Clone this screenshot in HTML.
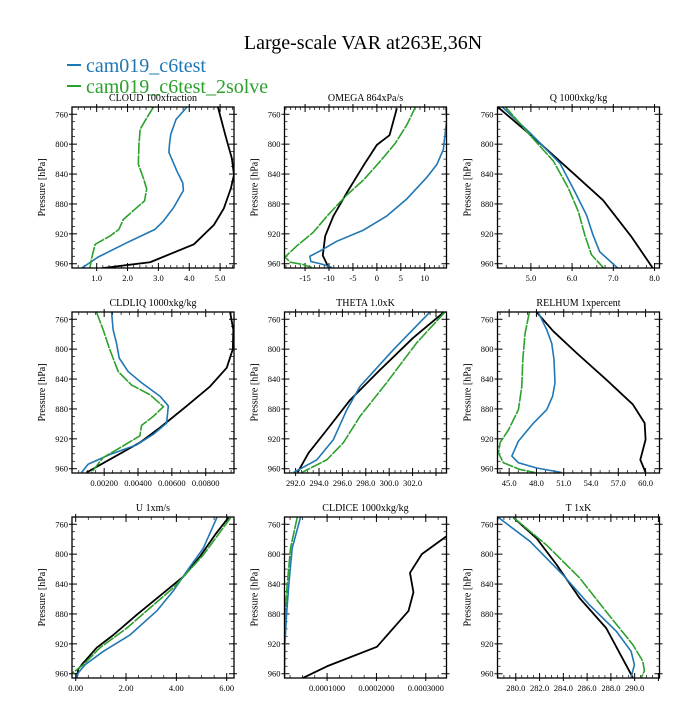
<!DOCTYPE html>
<html><head><meta charset="utf-8"><style>
body{margin:0;background:#fff;}
svg text{font-family:"Liberation Serif",serif;}
</style></head><body>
<svg id="fig" width="700" height="700" viewBox="0 0 700 700" xmlns="http://www.w3.org/2000/svg">
<rect width="700" height="700" fill="#fff"/>
<text x="363" y="49" font-size="20" text-anchor="middle">Large-scale VAR at263E,36N</text>
<g>
<line x1="67" y1="65" x2="81" y2="65" stroke="#1f77b4" stroke-width="2"/>
<text x="86" y="72" font-size="20" fill="#1f77b4">cam019_c6test</text>
<line x1="67" y1="86" x2="81" y2="86" stroke="#2ca02c" stroke-width="2"/>
<text x="86" y="93" font-size="20" fill="#2ca02c">cam019_c6test_2solve</text>
</g>
<g id="panels"></g>
</svg>
<script>
// Pressure axis
const pTicks = [760, 800, 840, 880, 920, 960];
const pDomain = [750.3, 965.7];

// CLOUD
const cloudTicks = [1.0, 2.0, 3.0, 4.0, 5.0];
const cloudBlackP = [750.5,788,819,841,859,886,908,934,958,966];
const cloudBlackX = [4.93,5.17,5.38,5.45,5.35,5.12,4.8,4.15,2.73,1.16];
const cloudBlueP = [750.5,767,787,800,811,836,852,862,885,903,914,932,951,966];
const cloudBlueX = [3.92,3.57,3.40,3.36,3.34,3.6,3.79,3.81,3.49,3.16,2.89,1.97,1.05,0.51];
const cloudGreenP = [750.5,765,780,800,827,845,860,876,887,901,914,923,934,952,966];
const cloudGreenX = [2.84,2.62,2.41,2.37,2.35,2.51,2.62,2.55,2.24,1.86,1.72,1.43,0.95,0.84,0.78];

// OMEGA
const omegaTicks = [-15, -10, -5, 0, 5, 10];
const omegaBlackP = [752,788,801,825,865,896,923,949,965];
const omegaBlackX = [4.18,2.65,0,-2.44,-6.28,-9.07,-10.8,-11.3,-10.1];
const omegaBlueP = [749,767,807,827,844,873,896,915,930,943,950,957,961,965];
const omegaBlueX = [14.4,14.6,13.9,12.55,10.5,6.3,2.1,-2.8,-8.4,-11.9,-14,-13.8,-11.2,-9.4];
const omegaGreenP = [749,774,799,823,848,868,894,918,936,951,958,961,965];
const omegaGreenX = [8.16,6.28,3.83,0.69,-2.8,-6.28,-10.1,-13.3,-16.7,-19.2,-18.1,-15.4,-13.6];

// Q
const qTicks = [5.0, 6.0, 7.0, 8.0];
const qBlackP = [750,787,839,875,924,966];
const qBlackX = [4.19,4.98,6.03,6.75,7.44,7.96];
const qBlueP = [750,785,826,864,895,922,944,966];
const qBlueX = [4.30,4.98,5.71,6.07,6.35,6.51,6.67,7.11];
const qGreenP = [750,788,823,859,890,922,948,966];
const qGreenX = [4.38,4.98,5.55,5.91,6.15,6.31,6.47,6.77];

// CLDLIQ
const liqTicks = [0.002, 0.004, 0.006, 0.008];
const liqBlackP = [750.7,774,800,825,850,876,905,925,945,965];
const liqBlackX = [0.00944,0.00963,0.0096,0.00924,0.00825,0.00688,0.0053,0.00411,0.00253,0.00096];
const liqBlueP = [750.7,774,792,812,830,845,863,876,899,914,928,941,954,965];
const liqBlueX = [0.00244,0.00253,0.00273,0.00289,0.00342,0.00421,0.0053,0.00579,0.00569,0.0049,0.00392,0.00234,0.00105,0.00066];
const liqGreenP = [750.7,774,801,830,848,861,877,890,902,916,932,945,965];
const liqGreenX = [0.00155,0.00194,0.00234,0.00283,0.00362,0.00471,0.0055,0.0049,0.00421,0.00411,0.00293,0.00194,0.00125];

// THETA
const thetaTicks = [292, 294, 296, 298, 300, 302];
const thetaBlackP = [750.7,785,828,868,908,939,965];
const thetaBlackX = [304.66,302.04,299.2,296.66,294.67,293.1,292.17];
const thetaBlueP = [750.7,801,850,881,921,948,965];
const thetaBlueX = [303.46,300.34,297.5,296.38,295.23,293.82,291.83];
const thetaGreenP = [750.7,792,845,890,925,948,965];
const thetaGreenX = [304.74,302.33,299.78,297.5,296.09,294.67,292.54];

// RELHUM
const rhTicks = [45, 48, 51, 54, 57, 60];
const rhBlackP = [750.7,776,805,841,874,899,921,948,965];
const rhBlackX = [48.03,49.85,52.4,55.7,58.6,59.9,60.0,59.42,60.0];
const rhBlueP = [750.7,774,792,814,845,863,881,899,923,943,952,959,965];
const rhBlueX = [48.2,49.13,49.68,49.93,50.04,49.78,49.13,47.67,46.02,45.3,46.02,48.03,50.77];
const rhGreenP = [750.7,779,814,850,881,908,925,939,952,961,965];
const rhGreenX = [47.22,46.75,46.5,46.39,46.02,44.93,44.0,43.83,44.37,46.2,47.85];

// U
const uTicks = [0, 2, 4, 6];
const uBlackP = [751,774,803,830,852,881,908,925,948,954,966];
const uBlackX = [6.07,5.54,4.94,4.28,3.48,2.43,1.5,0.84,0.24,0.10,0.04];
const uBlueP = [751,792,823,849,876,908,930,948,959,966];
const uBlueX = [5.61,5.07,4.41,3.88,3.22,2.16,1.1,0.37,0.1,0.04];
const uGreenP = [751,801,845,872,899,925,948,960];
const uGreenX = [6.16,5.07,3.88,2.95,2.03,0.97,0.30,-0.16];

// CLDICE
const iceTicks = [0.0001, 0.0002, 0.0003];
const iceBlackP = [776,800,825,851,876,924,950,966];
const iceBlackX = [0.000342,0.000292,0.000268,0.000275,0.000265,0.000201,0.0001,0.00005];
const iceBlueP = [751,792,841,881,921,966];
const iceBlueX = [0.000046,0.0000293,0.0000224,0.0000178,0.0000144,0.0000137];
const iceGreenP = [751,792,841,881,921,966];
const iceGreenX = [0.0000394,0.0000259,0.0000192,0.0000144,0.0000124,0.0000111];

// T
const tTicks = [280, 282, 284, 286, 288, 290];
const tBlackP = [751,779,814,859,899,965];
const tBlackX = [279.8,281.76,283.43,285.38,287.61,289.84];
const tBlueP = [751,783,828,868,903,930,948,965];
const tBlueX = [278.54,281.2,283.98,286.2,288.45,289.7,289.98,289.7];
const tGreenP = [751,788,832,877,921,943,956,966];
const tGreenX = [279.8,282.6,285.38,287.61,289.84,290.68,290.82,290.54];

const NS = 'http://www.w3.org/2000/svg';
const colX = [72, 284.5, 497.5];
const rowY = [107, 312, 517];
const PW = 162, PH = 161;

const panels = [
 {name:'cloud', title:'CLOUD  100xfraction', dom:[0.2,5.45], ticks:cloudTicks, fmt:v=>v.toFixed(1), minor:5, s:[[cloudBlackP,cloudBlackX],[cloudBlueP,cloudBlueX],[cloudGreenP,cloudGreenX]]},
 {name:'omega', title:'OMEGA  864xPa/s', dom:[-19.3,14.55], ticks:omegaTicks, fmt:v=>String(v), minor:5, s:[[omegaBlackP,omegaBlackX],[omegaBlueP,omegaBlueX],[omegaGreenP,omegaGreenX]]},
 {name:'q', title:'Q  1000xkg/kg', dom:[4.19,8.12], ticks:qTicks, fmt:v=>v.toFixed(1), minor:5, s:[[qBlackP,qBlackX],[qBlueP,qBlueX],[qGreenP,qGreenX]]},
 {name:'cldliq', title:'CLDLIQ  1000xkg/kg', dom:[0.0001,0.00967], ticks:liqTicks, fmt:v=>v.toFixed(5), minor:4, s:[[liqBlackP,liqBlackX],[liqBlueP,liqBlueX],[liqGreenP,liqGreenX]]},
 {name:'theta', title:'THETA  1.0xK', dom:[291.05,304.9], ticks:thetaTicks, fmt:v=>v.toFixed(1), minor:4, s:[[thetaBlackP,thetaBlackX],[thetaBlueP,thetaBlueX],[thetaGreenP,thetaGreenX]]},
 {name:'relhum', title:'RELHUM  1xpercent', dom:[43.72,61.53], ticks:rhTicks, fmt:v=>v.toFixed(1), minor:3, s:[[rhBlackP,rhBlackX],[rhBlueP,rhBlueX],[rhGreenP,rhGreenX]]},
 {name:'u', title:'U  1xm/s', dom:[-0.147,6.29], ticks:uTicks, fmt:v=>v.toFixed(2), minor:4, s:[[uBlackP,uBlackX],[uBlueP,uBlueX],[uGreenP,uGreenX]]},
 {name:'cldice', title:'CLDICE  1000xkg/kg', dom:[0.0000137,0.000342], ticks:iceTicks, fmt:v=>v.toFixed(7), minor:4, s:[[iceBlackP,iceBlackX],[iceBlueP,iceBlueX],[iceGreenP,iceGreenX]]},
 {name:'t', title:'T  1xK', dom:[278.46,292.09], ticks:tTicks, fmt:v=>v.toFixed(1), minor:4, s:[[tBlackP,tBlackX],[tBlueP,tBlueX],[tGreenP,tGreenX]]}
];
const colors = ['#000000','#1f77b4','#2ca02c'];
const sNames = ['control','c6test','c6test-2solve'];
const root = document.getElementById('panels');

function mk(tag, attrs, parent){const e=document.createElementNS(NS,tag);for(const k in attrs)e.setAttribute(k,attrs[k]);parent.appendChild(e);return e;}

panels.forEach((pn,i)=>{
  const x0 = colX[i%3], y0 = rowY[Math.floor(i/3)];
  const xs = v => x0 + (v-pn.dom[0])/(pn.dom[1]-pn.dom[0])*PW;
  const ys = p => y0 + (p-pDomain[0])/(pDomain[1]-pDomain[0])*PH;
  const g = mk('g',{},root);
  
  
  const cid = 'clip'+i;
  const cp = mk('clipPath',{id:cid},g);
  mk('rect',{x:x0,y:y0,width:PW,height:PH},cp);
  const tt = mk('text',{x:x0+PW/2,y:y0-6,'font-size':'10','text-anchor':'middle'},g);
  tt.textContent = pn.title;
  
  
  const yl = mk('text',{x:0,y:0,'font-size':'10','text-anchor':'middle',transform:`translate(${x0-27},${y0+PH/2}) rotate(-90)`},g);
  yl.textContent = 'Pressure [hPa]';
  
  
  for(let p=760;p<=960;p+=10){
    const y=ys(p), major = pTicks.includes(p);
    const L = major?5:3;
    mk('line',{x1:x0-(major?3:0),y1:y,x2:x0+L,y2:y,stroke:'#000','stroke-width':major?1:0.7},g);
    mk('line',{x1:x0+PW-L,y1:y,x2:x0+PW+(major?3:0),y2:y,stroke:'#000','stroke-width':major?1:0.7},g);
  }
  pTicks.forEach(p=>{
    const t = mk('text',{x:x0-4,y:ys(p)+3,'font-size':'8.5','text-anchor':'end'},g);
    t.textContent = p;
    
    
  });
  const step = pn.ticks[1]-pn.ticks[0];
  const mstep = step/pn.minor;
  const start = pn.ticks[0] - Math.ceil((pn.ticks[0]-pn.dom[0])/mstep)*mstep;
  for(let k=0; ; k++){
    const v = start + k*mstep;
    if(v>pn.dom[1]+1e-12) break;
    if(v<pn.dom[0]-1e-12) continue;
    const x = xs(v);
    const major = Math.abs(((v-pn.ticks[0])/step) - Math.round((v-pn.ticks[0])/step))<1e-6;
    const L = major?5:3;
    mk('line',{x1:x,y1:y0+PH+(major?3:0),x2:x,y2:y0+PH-L,stroke:'#000','stroke-width':major?1:0.7},g);
    mk('line',{x1:x,y1:y0-(major?3:0),x2:x,y2:y0+L,stroke:'#000','stroke-width':major?1:0.7},g);
  }
  pn.ticks.forEach(v=>{
    const t = mk('text',{x:xs(v),y:y0+PH+13,'font-size':'8.5','text-anchor':'middle'},g);
    t.textContent = pn.fmt(v);
    
    
  });
  pn.s.forEach((s,j)=>{
    const [P,X] = s;
    const d = P.map((p,k)=>(k?'L':'M')+xs(X[k]).toFixed(2)+','+ys(p).toFixed(2)).join(' ');
    const path = mk('path',{d:d,fill:'none',stroke:colors[j],'stroke-width':j===0?1.8:1.6,'clip-path':`url(#${cid})`,'stroke-linejoin':'round'},g);
    if(j===2) path.setAttribute('stroke-dasharray','12,1');
    
    
  });
  const box = mk('rect',{x:x0,y:y0,width:PW,height:PH,fill:'none',stroke:'#000','stroke-width':1.3},g);
  
  
});
</script>
</body></html>
